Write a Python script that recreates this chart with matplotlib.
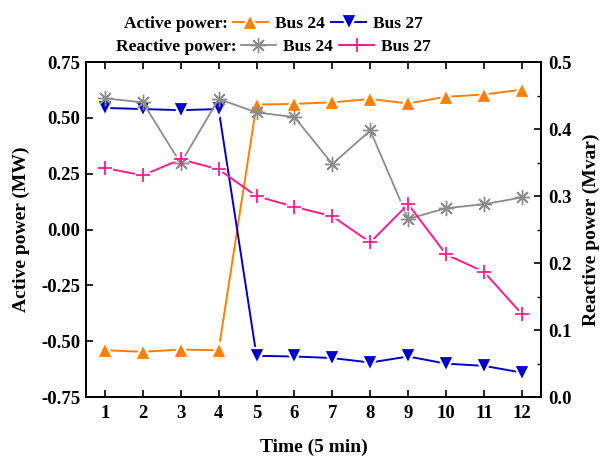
import matplotlib
matplotlib.use("Agg")
import matplotlib.pyplot as plt
from matplotlib.lines import Line2D
import numpy as np

plt.rcParams['font.family'] = ['Liberation Serif', 'DejaVu Serif']
plt.rcParams['font.weight'] = 'bold'

time = [1, 2, 3, 4, 5, 6, 7, 8, 9, 10, 11, 12]
active_bus24 = [-0.54, -0.547, -0.537, -0.54, 0.56, 0.563, 0.57, 0.585, 0.565, 0.595, 0.605, 0.627]
active_bus27 = [0.545, 0.54, 0.535, 0.54, -0.565, -0.568, -0.575, -0.595, -0.568, -0.6, -0.61, -0.64]
reactive_bus24 = [0.446, 0.44, 0.349, 0.445, 0.425, 0.418, 0.348, 0.398, 0.266, 0.282, 0.288, 0.298]
reactive_bus27 = [0.342, 0.331, 0.355, 0.34, 0.30, 0.284, 0.27, 0.231, 0.288, 0.213, 0.187, 0.124]

x_ticks = time
left_ticks = [-0.75, -0.50, -0.25, 0.00, 0.25, 0.50, 0.75]
right_ticks = [0.0, 0.1, 0.2, 0.3, 0.4, 0.5]

c_or = '#FF8000'
c_bl = '#0000CC'
c_gr = '#8C8C8C'
c_pk = '#FF1A8C'

fig = plt.figure(figsize=(6.05, 4.57), dpi=100)
ax = fig.add_axes([0.142, 0.131, 0.752, 0.733])
ax2 = ax.twinx()

lw = 1.4
# active power
ax.plot(time, active_bus24, color=c_or, lw=lw, marker='^', ms=11, mfc=c_or,
        mec='white', mew=1.6, zorder=3)
ax.plot(time, active_bus27, color=c_bl, lw=lw, marker='v', ms=11, mfc=c_bl,
        mec='white', mew=1.6, zorder=3)

# reactive power
ax2.plot(time, reactive_bus24, color=c_gr, lw=1.3, zorder=2)
ax2.plot(time, reactive_bus24, ls='none', marker=(8, 2, 0), ms=11, mec=c_gr, mew=1.0, zorder=2.2)
ax2.plot(time, reactive_bus27, color=c_pk, lw=lw, zorder=2)
ax2.plot(time, reactive_bus27, ls='none', marker='+', ms=12, mec='white', mew=4, zorder=2.1)
ax2.plot(time, reactive_bus27, ls='none', marker='+', ms=10, mec=c_pk, mew=1.3, zorder=2.2)

ax.set_xlim(0.5, 12.5)
ax.set_ylim(-0.75, 0.75)
ax2.set_ylim(0.0, 0.5)
ax.set_xticks(x_ticks)
ax.set_yticks(left_ticks)
ax.set_yticklabels([f"{v:.2f}" for v in left_ticks])
ax2.set_yticks(right_ticks)
ax2.set_yticklabels([f"{v:.1f}" for v in right_ticks])
ax2.set_yticks(np.arange(0.05, 0.5, 0.1), minor=True)

ax.tick_params(axis='both', direction='in', length=5, width=1.2, labelsize=13.5, pad=6,
               top=True, right=False)
ax.tick_params(axis='y', pad=4)
ax2.tick_params(axis='y', which='major', direction='in', length=5, width=1.2, labelsize=13.5, pad=5)
ax2.tick_params(axis='y', which='minor', direction='in', length=3, width=1.0)

for a in (ax, ax2):
    for s in a.spines.values():
        s.set_linewidth(1.3)

ax.set_xlabel('Time (5 min)', fontsize=14, fontweight='bold', labelpad=12)
ax.set_ylabel('Active power (MW)', fontsize=14, fontweight='bold', labelpad=8)
ax2.set_ylabel('Reactive power (Mvar)', fontsize=14, fontweight='bold', labelpad=8)

# legend rows
fs = 12.5
h_or = Line2D([], [], color=c_or, lw=lw, marker='^', ms=11, mfc=c_or, mec='white', mew=1.6)
h_bl = Line2D([], [], color=c_bl, lw=lw, marker='v', ms=11, mfc=c_bl, mec='white', mew=1.6)
h_gr = Line2D([], [], color=c_gr, lw=1.3, marker=(8, 2, 0), ms=11, mec=c_gr, mew=1.0)
h_pk = Line2D([], [], color=c_pk, lw=lw, marker='+', ms=10, mec=c_pk, mew=1.3)

fig.text(228 / 605, 0.948, 'Active power:', ha='right', va='center', fontsize=fs, fontweight='bold')
leg1 = fig.legend([h_or, h_bl], ['Bus 24', 'Bus 27'], loc='center left',
                  bbox_to_anchor=(233 / 605, 0.948), ncol=2, frameon=False,
                  fontsize=fs, handlelength=2.0, handletextpad=0.4, columnspacing=0.4,
                  borderpad=0, borderaxespad=0)
fig.text(237 / 605, 0.898, 'Reactive power:', ha='right', va='center', fontsize=fs, fontweight='bold')
leg2 = fig.legend([h_gr, h_pk], ['Bus 24', 'Bus 27'], loc='center left',
                  bbox_to_anchor=(241 / 605, 0.898), ncol=2, frameon=False,
                  fontsize=fs, handlelength=2.0, handletextpad=0.4, columnspacing=0.4,
                  borderpad=0, borderaxespad=0)

fig.savefig('out.png', dpi=100)
